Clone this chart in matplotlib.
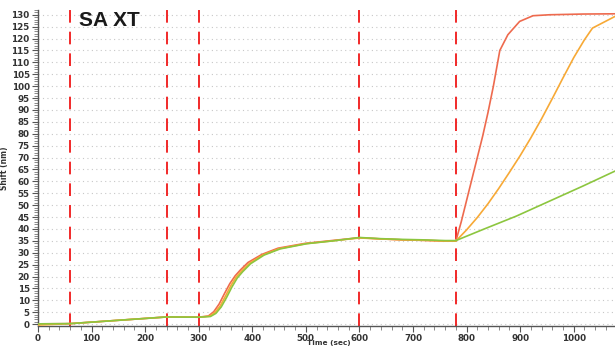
import matplotlib
matplotlib.use("Agg")
import matplotlib.pyplot as plt
from matplotlib.ticker import MultipleLocator

# ---- data ----
red_t = [0, 60, 240, 300, 318, 328, 338, 348, 358, 368, 378, 392, 418, 448, 498, 548, 600,
         640, 680, 720, 760, 780, 790, 800, 810, 820, 830, 840, 850, 862, 877, 899, 924, 955, 1017, 1077]
red_v = [0.1, 0.2, 3.0, 2.9, 3.4, 5.2, 8.4, 12.8, 17.0, 20.3, 22.8, 25.9, 29.3, 31.9, 33.9, 35.1, 36.3,
         35.8, 35.4, 35.2, 34.9, 34.9, 43.0, 52.0, 61.0, 70.0, 79.0, 89.0, 100.0, 115.0, 121.6, 127.2, 129.6, 130.0, 130.3, 130.4]

orange_t = [0, 60, 240, 300, 320, 330, 340, 350, 360, 370, 380, 395, 420, 450, 500, 550, 600,
            640, 680, 720, 760, 780, 800, 820, 840, 860, 880, 900, 920, 940, 960, 980, 1000, 1020, 1035, 1077]
orange_v = [-0.4, 0.2, 3.0, 2.9, 3.3, 4.8, 7.6, 11.8, 16.2, 19.8, 22.3, 25.6, 29.1, 31.7, 33.8, 35.0, 36.2,
            35.8, 35.4, 35.2, 34.9, 34.9, 39.6, 44.8, 50.6, 57.0, 63.8, 70.8, 78.3, 86.3, 94.8, 103.5, 112.0, 119.5, 124.4, 129.3]

green_t = [0, 60, 240, 300, 322, 332, 342, 352, 362, 372, 382, 397, 422, 452, 502, 552, 600,
           640, 680, 720, 760, 780, 831, 893, 955, 1017, 1077]
green_v = [0.1, 0.2, 3.0, 2.9, 3.2, 4.5, 7.2, 11.2, 15.6, 19.4, 22.0, 25.4, 29.0, 31.6, 33.8, 35.0, 36.4,
           35.9, 35.6, 35.4, 35.1, 35.1, 39.8, 45.4, 51.7, 58.0, 64.3]

event_times = [0, 60, 240, 300, 600, 780]

title = "SA XT"
xlabel = "Time (sec)"
ylabel = "Shift (nm)"

# ---- figure ----
fig = plt.figure(figsize=(6.15, 3.47), dpi=100)
ax = fig.add_axes([38/615, 1 - 326/347, 577/615, 316/347])

ax.set_xlim(0, 1077)
ax.set_ylim(-0.8, 132)

for y in range(0, 131, 5):
    ax.axhline(y, color="#c8c8c8", lw=0.8, ls=(0, (1, 3)), zorder=0)

for t in event_times:
    ax.axvline(t, color="#f01818", lw=1.3, ls=(0, (7, 5)), zorder=1)

ax.plot(red_t, red_v, color="#ee6a4e", lw=1.2, zorder=3)
ax.plot(orange_t, orange_v, color="#f7a936", lw=1.2, zorder=3)
ax.plot(green_t, green_v, color="#8cc63f", lw=1.2, zorder=4)

ax.xaxis.set_major_locator(MultipleLocator(100))
ax.xaxis.set_minor_locator(MultipleLocator(20))
ax.yaxis.set_major_locator(MultipleLocator(5))
ax.yaxis.set_minor_locator(MultipleLocator(1))

for s in ["top", "right"]:
    ax.spines[s].set_visible(False)
for s in ["left", "bottom"]:
    ax.spines[s].set_color("#555555")
    ax.spines[s].set_linewidth(1.0)

ax.tick_params(axis="both", which="major", length=4, width=0.8, color="#555555",
               labelsize=6.3, labelcolor="#333333", pad=2)
ax.tick_params(axis="x", which="major", pad=1.5)
ax.tick_params(axis="both", which="minor", length=3, width=0.6, color="#777777")
for lab in ax.get_xticklabels() + ax.get_yticklabels():
    lab.set_fontweight("bold")

fig.text(329/615, 1 - 343.3/347, xlabel, fontsize=5.3, fontweight="bold", color="#333333",
         ha="center", va="center")
ax.set_ylabel(ylabel, fontsize=5.5, fontweight="bold", color="#333333", labelpad=2)

ax.text(76, 127.7, title, fontsize=15, fontweight="bold", color="#1a1a1a",
        family="Liberation Sans", va="center", ha="left")

fig.savefig("out.png", dpi=100)
